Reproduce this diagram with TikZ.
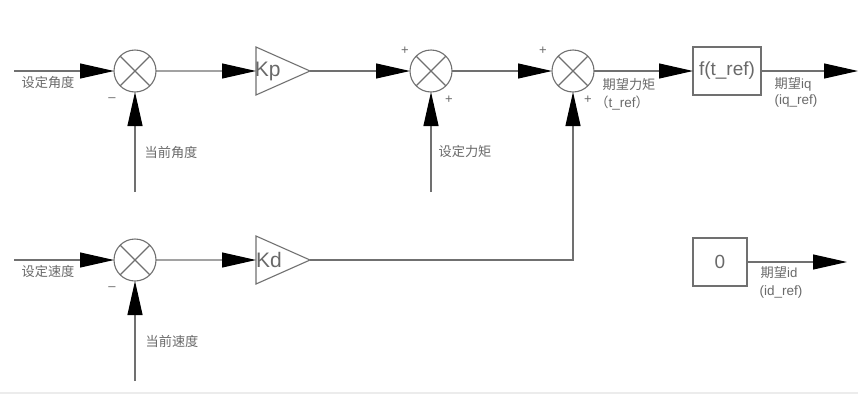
\documentclass[tikz,border=0pt]{standalone}
\usepackage{fontspec}
\setmainfont{Liberation Sans}
\newfontfamily\cjk{Noto Sans CJK SC}
\usetikzlibrary{positioning,arrows.meta,shapes.geometric}
\definecolor{myline}{RGB}{112,112,112}
\definecolor{mytext}{RGB}{105,105,105}
\definecolor{myband}{RGB}{236,236,236}
\begin{document}
\begin{tikzpicture}[x=1pt,y=-1pt,node distance=100pt,outer sep=0pt,
	sumb/.style={
		draw=myline,
		line width=1.1pt,
		circle,
		inner sep=0pt,
		minimum size=42pt,
		path picture={
			\draw[myline,line width=1.1pt]
			(path picture bounding box.north west) -- (path picture bounding box.south east)
			(path picture bounding box.north east) -- (path picture bounding box.south west);
		}},
	gainb/.style={
		draw=myline,
		line width=1.1pt,
		isosceles triangle,
		isosceles triangle stretches,
		inner sep=0pt,
		minimum height=54pt,
		minimum width=48pt,
		text=mytext,
		font={\fontsize{21}{21}\selectfont}},
	boxb/.style={
		draw=myline,
		line width=1.1pt,
		inner sep=0pt,
		minimum height=48pt,
		text=mytext,
		font={\fontsize{19}{19}\selectfont}},
	lab/.style={
		inner sep=0pt,
		text=mytext,
		align=center,
		font={\cjk\fontsize{13.2}{16}\selectfont}},
	latin/.style={
		inner sep=0pt,
		text=mytext,
		font={\fontsize{13.5}{14}\selectfont}},
	sign/.style={
		inner sep=0pt,
		text=mytext,
		font={\fontsize{13}{13}\selectfont}},
	wire/.style={
		draw=myline,
		line width=1.1pt},
	head/.style={
		wire,
		-{Triangle[length=34pt,width=15pt,black]}},
	]
	\useasboundingbox (0,0) rectangle (858,394);
	\fill[myband] (0,392) rectangle (858,394);

	\node[sumb] (SA) at (135,71) {};
	\node[gainb, right=of SA] (KP) {\makebox[6pt]{\hspace*{2pt}Kp}};
	\node[sumb] (SB) at (431,71) {};
	\node[sumb] (SC) at (573,71) {};
	\node[boxb, minimum width=68pt] (FT) at (727,71) {f(t\_ref)};

	\node[sumb] (SD) at (135,260) {};
	\node[gainb, right=of SD] (KD) {\makebox[6pt]{\hspace*{2pt}Kd}};
	\node[boxb, minimum width=54pt] (ZERO) at (720,262) {0};

	% free ends
	\coordinate (inA) at (14,71);
	\coordinate (fbA) at (135,192);
	\coordinate (inT) at (431,192);
	\coordinate (outQ) at (858,71);
	\coordinate (inD) at (14,260);
	\coordinate (fbD) at (135,381);
	\coordinate (outD) at (847,262);

	\draw[head] (inA) -- (SA);
	\draw[head] (SA) -- (KP);
	\draw[head] (KP.east) -- (SB);
	\draw[head] (SB) -- (SC);
	\draw[head] (SC) -- (FT);
	\draw[head] (FT) -- (outQ);
	\draw[head] (fbA) -- (SA);
	\draw[head] (inT) -- (SB);

	\draw[head] (inD) -- (SD);
	\draw[head] (SD) -- (KD);
	\draw[head] (KD.east) -| (SC);
	\draw[head] (fbD) -- (SD);
	\draw[head] (ZERO.east |- outD) -- (outD);

	\node[lab] (tA) at (48,82) {设定角度};
	\node[lab] (tB) at (171,152) {当前角度};
	\node[lab] (tC) at (465,151) {设定力矩};
	\node[lab] (tD) at (629,85) {期望力矩};
	\node[latin] (tE) at (622,103) {{\cjk（}t\_ref{\cjk ）}};
	\node[lab] (tF) at (793,84) {期望{\fontspec{Liberation Sans}iq}};
	\node[latin] (tG) at (796,101) {(iq\_ref)};

	\node[lab] (tH) at (48,271) {设定速度};
	\node[lab] (tI) at (172,341) {当前速度};
	\node[lab] (tJ) at (779,273) {期望{\fontspec{Liberation Sans}id}};
	\node[latin] (tK) at (781,292) {(id\_ref)};

	\node[sign] (mA) at (112,100) {--};
	\node[sign] (mB) at (112,289) {--};
	\node[sign] (pA) at (405,51) {+};
	\node[sign] (pB) at (449,100) {+};
	\node[sign] (pC) at (543,51) {+};
	\node[sign] (pD) at (588,100) {+};
\end{tikzpicture}
\end{document}
